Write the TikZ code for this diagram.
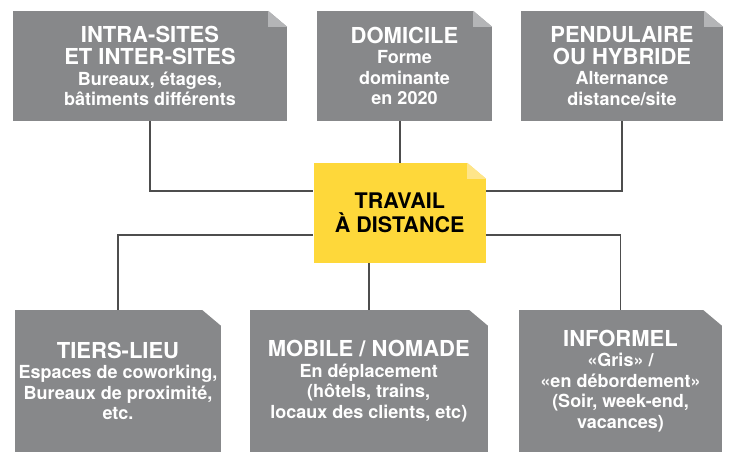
\documentclass[tikz,border=0pt]{standalone}
\usepackage{fontspec}
\setmainfont{TeX Gyre Heros}
\usepackage{tikz}

\definecolor{cardgray}{RGB}{135,136,138}
\definecolor{foldgray}{RGB}{180,181,183}
\definecolor{coreyellow}{RGB}{254,216,58}
\definecolor{foldyellow}{RGB}{254,229,138}
\definecolor{linkgray}{RGB}{77,77,77}

\newcommand{\ttl}[1]{{\fontsize{22}{23}\selectfont #1}}

\begin{document}
\begin{tikzpicture}[x=1pt, y=-1pt,
    card/.style={fill=cardgray, text=white, align=center, inner sep=0pt,
        font=\bfseries\fontsize{18}{20.5}\selectfont},
    core/.style={fill=coreyellow, text=black, align=center, inner sep=0pt,
        font=\bfseries\fontsize{21.5}{22.5}\selectfont},
    link/.style={draw=linkgray, line width=1.5pt}]
    \useasboundingbox (0,0) rectangle (739,465);

    % Upper row
    \node[card, minimum width=274pt, minimum height=110pt] (intra) at (150,66) {\ttl{INTRA-SITES}\\[1.5pt]\ttl{ET INTER-SITES}\\Bureaux, étages,\\bâtiments différents};
    \node[card, minimum width=175pt, minimum height=110pt] (domicile) at (404.5,66) {\ttl{DOMICILE}\\Forme\\dominante\\en 2020};
    \node[card, minimum width=202pt, minimum height=110pt] (pendulaire) at (622,66) {\ttl{PENDULAIRE}\\[1.5pt]\ttl{OU HYBRIDE}\\Alternance\\distance/site};

    % Centre
    \node[core, minimum width=172.5pt, minimum height=100pt] (work) at (399.75,213) {TRAVAIL\\[1pt]À DISTANCE};

    % Lower row
    \node[card, minimum width=206pt, minimum height=142pt] (tiers) at (118,381) {\ttl{TIERS-LIEU}\\Espaces de coworking,\\Bureaux de proximité,\\etc.};
    \node[card, minimum width=238.5pt, minimum height=142pt] (mobile) at (368.75,381) {\ttl{MOBILE / NOMADE}\\En déplacement\\(hôtels, trains,\\locaux des clients, etc)};
    \node[card, minimum width=203pt, minimum height=142pt] (informel) at (620.5,381) {\ttl{INFORMEL}\\«Gris» /\\«en débordement»\\(Soir, week-end,\\vacances)};

    % Cut corners and folds
    \foreach \n in {intra,domicile,pendulaire,work,tiers,mobile,informel}
        \fill[white] ([xshift=-19pt]\n.north east) -- (\n.north east) -- ([yshift=-16pt]\n.north east) -- cycle;
    \foreach \n/\c in {intra/foldgray,domicile/foldgray,pendulaire/foldgray,work/foldyellow}
        \fill[\c] ([xshift=-19pt]\n.north east) -- ([xshift=-19pt,yshift=-16pt]\n.north east) -- ([yshift=-16pt]\n.north east) -- cycle;

    % Connectors
    \draw[link] (intra.south) |- ([yshift=22pt]work.west);
    \draw[link] (domicile.south -| work.north) -- (work.north);
    \draw[link] (pendulaire.south) |- ([yshift=22pt]work.east);
    \draw[link] (tiers.north) |- ([yshift=-22pt]work.west);
    \draw[link] (work.south -| mobile.north) -- (mobile.north);
    \draw[link] (informel.north) |- ([yshift=-22pt]work.east);
\end{tikzpicture}
\end{document}
